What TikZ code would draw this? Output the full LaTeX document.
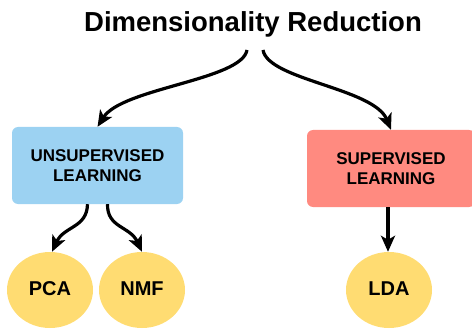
\documentclass[tikz,border=0pt]{standalone}
\usepackage{fontspec}
\setmainfont{Liberation Sans}
\usetikzlibrary{shapes.geometric,arrows.meta}
\definecolor{boxblue}{HTML}{9CD2F2}
\definecolor{boxred}{HTML}{FF8A80}
\definecolor{leafyellow}{HTML}{FFDC72}
\tikzset{
  category/.style={rectangle, rounded corners=6pt, minimum width=#1, minimum height=77pt,
    inner sep=0pt, align=center, font=\fontsize{17}{20}\selectfont\bfseries},
  method/.style={ellipse, fill=leafyellow, minimum width=86pt, minimum height=76pt,
    inner sep=0pt, font=\fontsize{20}{22}\selectfont\bfseries},
  link/.style={line width=3.2pt, -{Stealth[length=16pt,width=14pt,inset=4pt]}}
}
\begin{document}
\begin{tikzpicture}[x=1pt,y=-1pt]
  \useasboundingbox (0,0) rectangle (472,329);
  % heading
  \node[anchor=base, inner sep=0pt, font=\fontsize{27.5}{30}\selectfont\bfseries] (title) at (253,32) {Dimensionality Reduction};
  % learning categories
  \node[category=171pt, fill=boxblue] (unsup) at (97.5,165.5) {UNSUPERVISED\\LEARNING};
  \node[category=168pt, fill=boxred] (sup) at (391,168.5) {SUPERVISED\\LEARNING};
  % methods
  \node[method] (pca) at (50,290) {\raisebox{3pt}{PCA}};
  \node[method] (nmf) at (142,290) {\raisebox{3pt}{NMF}};
  \node[method] (lda) at (389,290) {\raisebox{3pt}{LDA}};
  % split points under the heading
  \coordinate (splitL) at ([xshift=-6pt,yshift=-18pt]title.base);
  \coordinate (splitR) at ([xshift=10pt,yshift=-18pt]title.base);
  % connectors
  \draw[link] (splitL) .. controls (242,80) and (122,88) .. (unsup.north);
  \draw[link] (splitR) .. controls (268,80) and (374,88) .. (sup.north);
  \draw[link] ([xshift=-10pt]unsup.south) .. controls (87,228) and (64,226) .. ([xshift=2pt]pca.north);
  \draw[link] ([xshift=10pt]unsup.south) .. controls (107,228) and (130,226) .. (nmf.north);
  \draw[link] ([xshift=-3pt]sup.south) -- ([xshift=-1pt]lda.north);
\end{tikzpicture}
\end{document}
